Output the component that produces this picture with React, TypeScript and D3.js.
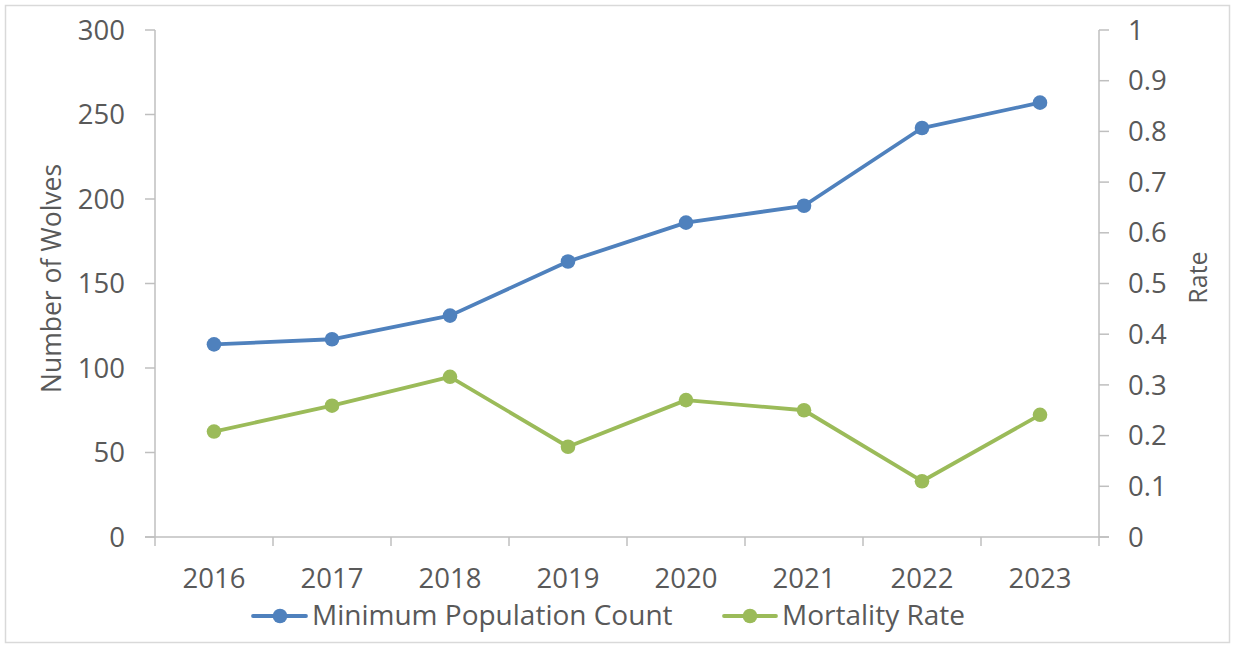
import React from "react";
import * as d3 from "d3";

const years = ["2016", "2017", "2018", "2019", "2020", "2021", "2022", "2023"];
const populationCount = [114, 117, 131, 163, 186, 196, 242, 257];
const mortalityRate = [0.208, 0.259, 0.316, 0.178, 0.27, 0.25, 0.11, 0.241];
const leftTicks = [0, 50, 100, 150, 200, 250, 300];
const rightTicks = [0, 0.1, 0.2, 0.3, 0.4, 0.5, 0.6, 0.7, 0.8, 0.9, 1];

const W = 1233;
const H = 645;
const plot = { left: 155, right: 1099, top: 30, bottom: 537 };
const FONT = "'Open Sans', sans-serif";
const TEXT = "#595959";
const AXIS = "#bfbfbf";
const BLUE = "#4f81bd";
const GREEN = "#9bbb59";
const TICK_FS = 27.5;

export default function App() {
  const x = d3.scaleBand<string>().domain(years).range([plot.left, plot.right]);
  const yL = d3.scaleLinear().domain([0, 300]).range([plot.bottom, plot.top]);
  const yR = d3.scaleLinear().domain([0, 1]).range([plot.bottom, plot.top]);
  const cx = (d: string) => (x(d) as number) + x.bandwidth() / 2;

  const lineL = d3
    .line<number>()
    .x((_, i) => cx(years[i]))
    .y((d) => yL(d));
  const lineR = d3
    .line<number>()
    .x((_, i) => cx(years[i]))
    .y((d) => yR(d));

  const catEdges = years.map((y) => x(y) as number).concat([plot.right]);

  return (
    <svg
      width={W}
      height={H}
      style={{ position: "absolute", left: 0, top: 0, display: "block" }}
      fontFamily={FONT}
    >
      <rect x={0} y={0} width={W} height={H} fill="#ffffff" />
      <rect x={5.5} y={5.5} width={1224} height={637} fill="#ffffff" stroke="#d9d9d9" strokeWidth={1.5} />

      {/* left axis */}
      <line x1={plot.left} x2={plot.left} y1={plot.top} y2={plot.bottom} stroke={AXIS} strokeWidth={1.5} />
      {leftTicks.map((t) => (
        <g key={"l" + t}>
          <line x1={plot.left - 10} x2={plot.left} y1={yL(t)} y2={yL(t)} stroke={AXIS} strokeWidth={1.5} />
          <text x={125} y={yL(t)} dy="0.35em" textAnchor="end" fontSize={TICK_FS} fill={TEXT}>
            {t}
          </text>
        </g>
      ))}

      {/* right axis */}
      <line x1={plot.right} x2={plot.right} y1={plot.top} y2={plot.bottom} stroke={AXIS} strokeWidth={1.5} />
      {rightTicks.map((t) => (
        <g key={"r" + t}>
          <line x1={plot.right} x2={plot.right + 10} y1={yR(t)} y2={yR(t)} stroke={AXIS} strokeWidth={1.5} />
          <text x={1128} y={yR(t)} dy="0.35em" textAnchor="start" fontSize={TICK_FS} fill={TEXT}>
            {d3.format("~g")(t)}
          </text>
        </g>
      ))}

      {/* bottom axis */}
      <line x1={plot.left - 10} x2={plot.right + 10} y1={plot.bottom} y2={plot.bottom} stroke={AXIS} strokeWidth={1.5} />
      {catEdges.map((e, i) => (
        <line key={"c" + i} x1={e} x2={e} y1={plot.bottom} y2={plot.bottom + 9} stroke={AXIS} strokeWidth={1.5} />
      ))}
      {years.map((yr) => (
        <text key={yr} x={cx(yr)} y={588} textAnchor="middle" fontSize={TICK_FS} fill={TEXT}>
          {yr}
        </text>
      ))}

      {/* axis titles */}
      <text
        transform={`translate(61, ${(plot.top + plot.bottom) / 2 - 5}) rotate(-90)`}
        textAnchor="middle"
        fontSize={26.5}
        fill={TEXT}
      >
        Number of Wolves
      </text>
      <text
        transform={`translate(1207, ${(plot.top + plot.bottom) / 2 - 6}) rotate(-90)`}
        textAnchor="middle"
        fontSize={25}
        fill={TEXT}
      >
        Rate
      </text>

      {/* series */}
      <path d={lineL(populationCount) || ""} fill="none" stroke={BLUE} strokeWidth={3.8} strokeLinejoin="round" />
      {populationCount.map((v, i) => (
        <circle key={"p" + i} cx={cx(years[i])} cy={yL(v)} r={7.3} fill={BLUE} />
      ))}
      <path d={lineR(mortalityRate) || ""} fill="none" stroke={GREEN} strokeWidth={3.8} strokeLinejoin="round" />
      {mortalityRate.map((v, i) => (
        <circle key={"m" + i} cx={cx(years[i])} cy={yR(v)} r={7.3} fill={GREEN} />
      ))}

      {/* legend */}
      <g>
        <line x1={253} x2={306} y1={616} y2={616} stroke={BLUE} strokeWidth={3.8} strokeLinecap="round" />
        <circle cx={280} cy={616} r={7.3} fill={BLUE} />
        <text x={312} y={625} fontSize={28} fill={TEXT}>
          Minimum Population Count
        </text>
        <line x1={724} x2={776} y1={616} y2={616} stroke={GREEN} strokeWidth={3.8} strokeLinecap="round" />
        <circle cx={750} cy={616} r={7.3} fill={GREEN} />
        <text x={782} y={625} fontSize={28} fill={TEXT}>
          Mortality Rate
        </text>
      </g>
    </svg>
  );
}
